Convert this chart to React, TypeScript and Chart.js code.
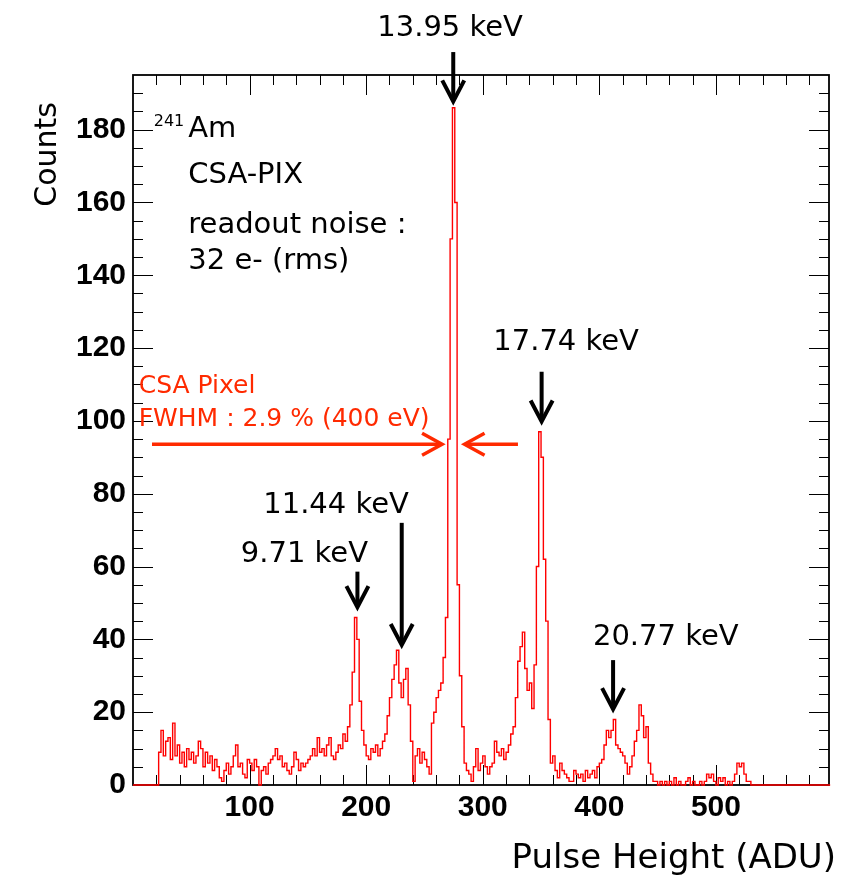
import React, { useEffect, useRef } from "react";
import { Chart, registerables } from "chart.js";

Chart.register(...registerables);

// ---- data (Pulse height histogram, 2 ADU per bin, bins start at 0) ----
const BIN_WIDTH = 2;
const counts000 = [0, 0, 0, 0, 0, 0, 0, 0, 0, 0, 0, 9, 15, 8, 12, 13, 7, 17, 8, 11, 6, 9, 5, 10, 7];
const counts050 = [9, 6, 8, 12, 10, 5, 9, 6, 8, 4, 7, 5, 2, 1, 4, 6, 3, 5, 8, 11, 5, 6, 3, 2, 7];
const counts100 = [6, 4, 7, 5, 0, 4, 5, 3, 6, 7, 8, 10, 7, 8, 5, 6, 4, 3, 5, 9, 7, 4, 6, 5, 6];
const counts150 = [7, 8, 10, 8, 13, 9, 10, 8, 11, 13, 8, 7, 9, 11, 10, 14, 12, 16, 22, 31, 46, 40, 23, 15, 11];
const counts200 = [8, 7, 10, 9, 11, 8, 10, 12, 14, 19, 24, 29, 33, 37, 28, 24, 29, 32, 22, 12, 1, 8, 10, 6, 9];
const counts250 = [7, 5, 3, 17, 20, 24, 26, 28, 35, 46, 95, 150, 186, 160, 55, 30, 16, 6, 4, 3, 1, 5, 10, 4, 6];
const counts300 = [8, 5, 3, 5, 6, 12, 9, 8, 10, 7, 9, 11, 14, 16, 24, 34, 38, 42, 32, 26, 28, 21, 33, 60, 97];
const counts350 = [90, 62, 45, 18, 6, 8, 4, 2, 6, 4, 3, 2, 1, 1, 4, 3, 2, 3, 1, 4, 2, 3, 4, 2, 5];
const counts400 = [6, 7, 11, 15, 13, 15, 18, 11, 10, 9, 8, 6, 3, 5, 8, 12, 15, 22, 19, 13, 16, 6, 3, 1, 1];
const counts450 = [0, 1, 0, 1, 0, 1, 0, 2, 0, 1, 0, 0, 1, 2, 0, 1, 0, 0, 1, 0, 1, 3, 2, 3, 1];
const counts500 = [0, 2, 1, 2, 0, 1, 0, 1, 3, 6, 5, 6, 3, 1, 1, 0, 0, 0, 0, 0, 0, 0, 0, 0, 0];
const counts550 = [0, 0, 0, 0, 0, 0, 0, 0, 0, 0, 0, 0, 0, 0, 0, 0, 0, 0, 0, 0, 0, 0, 0, 0];

const xTickValues = [100, 200, 300, 400, 500];
const yTickValues = [0, 20, 40, 60, 80, 100, 120, 140, 160, 180];
const X_RANGE = [0, 597];
const Y_RANGE = [0, 195];

const xTitle = "Pulse Height (ADU)";
const yTitle = "Counts";

// peak annotations (data coordinates)
const peakLabels = ["9.71 keV", "11.44 keV", "13.95 keV", "17.74 keV", "20.77 keV"];
const peakLabelX = [147, 174.2, 272, 371.5, 457];
const peakLabelY = [61.3, 74.6, 205.7, 119.5, 38.5];
const peakArrowX = [192.5, 230.5, 274.7, 350.5, 411.8];
const peakArrowTop = [58.6, 72, 201.3, 113.5, 34.3];
const peakArrowTip = [47.9, 37.5, 186.8, 98.9, 19.9];

const infoIsotopeMass = "241";
const infoIsotope = "Am";
const infoLines = ["CSA-PIX", "readout noise :", "32 e- (rms)"];
const infoX = 47.4;
const infoY = [177.9, 165.3, 151.5, 141.8];

const fwhmLines = ["CSA Pixel", "FWHM : 2.9 % (400 eV)"];
const fwhmTextX = 4.9;
const fwhmTextY = [107.6, 98.6];
const fwhmArrowY = 93.6;
const fwhmLeftArrow = [16.3, 267.6];
const fwhmRightArrow = [330.2, 281.9];

const allCounts = [
  ...counts000, ...counts050, ...counts100, ...counts150, ...counts200, ...counts250,
  ...counts300, ...counts350, ...counts400, ...counts450, ...counts500, ...counts550,
];

const SANS = "'DejaVu Sans', Verdana, sans-serif";
const BOLD = "'Liberation Sans', Arial, Helvetica, sans-serif";
const RED_TEXT = "#ff2a00";

function drawArrow(ctx: CanvasRenderingContext2D, x1: number, y1: number, x2: number, y2: number,
  head: number, half: number, width: number, color: string) {
  const ang = Math.atan2(y2 - y1, x2 - x1);
  const ux = Math.cos(ang), uy = Math.sin(ang);
  const theta = Math.atan2(half, head);
  const miter = (width / 2) / Math.sin(theta);
  const tx = x2 - ux * miter * 0.8, ty = y2 - uy * miter * 0.8;
  ctx.save();
  ctx.strokeStyle = color;
  ctx.lineWidth = width;
  ctx.lineJoin = "miter";
  ctx.lineCap = "butt";
  ctx.beginPath();
  ctx.moveTo(x1, y1);
  ctx.lineTo(tx - ux * 2, ty - uy * 2);
  ctx.stroke();
  const bx = tx - ux * head, by = ty - uy * head;
  ctx.beginPath();
  ctx.moveTo(bx - uy * half, by + ux * half);
  ctx.lineTo(tx, ty);
  ctx.lineTo(bx + uy * half, by - ux * half);
  ctx.stroke();
  ctx.restore();
}

const rootFramePlugin = {
  id: "rootFrame",
  beforeDatasetsDraw(chart: any) {
    const { ctx, chartArea, scales } = chart;
    const { left, right, top, bottom } = chartArea;
    const xs = scales.x, ys = scales.y;
    ctx.save();
    ctx.strokeStyle = "#000";
    ctx.lineWidth = 1;
    ctx.beginPath();
    for (let v = 0; v <= X_RANGE[1]; v += 20) {
      const px = Math.round(xs.getPixelForValue(v)) + 0.5;
      if (px <= left + 1 || px >= right - 1) continue;
      const len = v % 100 === 0 ? 20 : 10;
      ctx.moveTo(px, bottom); ctx.lineTo(px, bottom - len);
      ctx.moveTo(px, top); ctx.lineTo(px, top + len);
    }
    for (let c = 0; c <= Y_RANGE[1]; c += 5) {
      const py = Math.round(ys.getPixelForValue(c)) + 0.5;
      if (py >= bottom - 1 || py <= top + 1) continue;
      const len = c % 20 === 0 ? 20 : 10;
      ctx.moveTo(left, py); ctx.lineTo(left + len, py);
      ctx.moveTo(right, py); ctx.lineTo(right - len, py);
    }
    ctx.stroke();
    ctx.lineWidth = 1.8;
    ctx.strokeRect(left, top, right - left, bottom - top);
    ctx.restore();
  },
  afterDraw(chart: any) {
    const { ctx, chartArea, scales } = chart;
    const xs = scales.x, ys = scales.y;
    const X = (v: number) => xs.getPixelForValue(v);
    const Y = (v: number) => ys.getPixelForValue(v);
    ctx.save();
    ctx.textBaseline = "alphabetic";

    // axis titles
    ctx.fillStyle = "#000";
    ctx.font = `34px ${SANS}`;
    ctx.textAlign = "right";
    ctx.fillText(xTitle, chartArea.right + 7, 868);
    ctx.save();
    ctx.translate(56, chartArea.top + 27);
    ctx.rotate(-Math.PI / 2);
    ctx.font = `30px ${SANS}`;
    ctx.textAlign = "right";
    ctx.fillText(yTitle, 0, 0);
    ctx.restore();

    // info text
    ctx.font = `29px ${SANS}`;
    ctx.textAlign = "left";
    ctx.fillText(infoIsotope, X(infoX), Y(infoY[0]));
    ctx.font = `16px ${SANS}`;
    ctx.textAlign = "right";
    ctx.fillText(infoIsotopeMass, X(infoX) - 4, Y(infoY[0]) - 11);
    ctx.font = `29px ${SANS}`;
    ctx.textAlign = "left";
    infoLines.forEach((t, i) => ctx.fillText(t, X(infoX), Y(infoY[i + 1])));

    // peak labels and arrows
    ctx.textAlign = "center";
    peakLabels.forEach((t, i) => {
      ctx.fillStyle = "#000";
      ctx.font = `29px ${SANS}`;
      ctx.fillText(t, X(peakLabelX[i]), Y(peakLabelY[i]));
      drawArrow(ctx, X(peakArrowX[i]), Y(peakArrowTop[i]), X(peakArrowX[i]), Y(peakArrowTip[i]), 21, 11, 4, "#000");
    });

    // FWHM annotation
    ctx.fillStyle = RED_TEXT;
    ctx.font = `25px ${SANS}`;
    ctx.textAlign = "left";
    fwhmLines.forEach((t, i) => ctx.fillText(t, X(fwhmTextX), Y(fwhmTextY[i])));
    drawArrow(ctx, X(fwhmLeftArrow[0]), Y(fwhmArrowY), X(fwhmLeftArrow[1]), Y(fwhmArrowY), 20, 11, 3.5, RED_TEXT);
    drawArrow(ctx, X(fwhmRightArrow[0]), Y(fwhmArrowY), X(fwhmRightArrow[1]), Y(fwhmArrowY), 20, 11, 3.5, RED_TEXT);
    ctx.restore();
  },
};

export default function App() {
  const canvasRef = useRef<HTMLCanvasElement | null>(null);

  useEffect(() => {
    const canvas = canvasRef.current;
    if (!canvas) return;
    const points = allCounts.map((c, i) => ({ x: i * BIN_WIDTH, y: c }));
    points.push({ x: allCounts.length * BIN_WIDTH, y: allCounts[allCounts.length - 1] });

    const chart = new Chart(canvas, {
      type: "line",
      data: {
        datasets: [
          {
            label: "CSA-PIX",
            data: points,
            stepped: "before",
            borderColor: "#ff0000",
            borderWidth: 1.4,
            pointRadius: 0,
            fill: false,
            tension: 0,
            clip: 3,
          },
        ],
      },
      options: {
        responsive: false,
        animation: false,
        devicePixelRatio: 1,
        layout: { padding: { top: 75, right: 38, left: 0, bottom: 0 } },
        plugins: { legend: { display: false }, tooltip: { enabled: false }, title: { display: false } },
        scales: {
          x: {
            type: "linear",
            min: X_RANGE[0],
            max: X_RANGE[1],
            afterBuildTicks: (scale: any) => { scale.ticks = xTickValues.map((v) => ({ value: v })); },
            afterFit: (scale: any) => { scale.height = 93; },
            grid: { display: false, drawTicks: false },
            border: { display: false },
            ticks: {
              autoSkip: false,
              maxRotation: 0,
              padding: 5,
              color: "#000",
              font: { family: BOLD, weight: "bold", size: 30 },
            },
          },
          y: {
            type: "linear",
            min: Y_RANGE[0],
            max: Y_RANGE[1],
            afterBuildTicks: (scale: any) => { scale.ticks = yTickValues.map((v) => ({ value: v })); },
            afterFit: (scale: any) => { scale.width = 133; },
            grid: { display: false, drawTicks: false },
            border: { display: false },
            ticks: {
              autoSkip: false,
              padding: 7,
              color: "#000",
              font: { family: BOLD, weight: "bold", size: 30 },
            },
          },
        },
      } as any,
      plugins: [rootFramePlugin],
    });
    return () => chart.destroy();
  }, []);

  return (
    <canvas
      ref={canvasRef}
      width={867}
      height={878}
      style={{ position: "absolute", left: 0, top: 0, width: "867px", height: "878px", background: "#fff" }}
    />
  );
}
